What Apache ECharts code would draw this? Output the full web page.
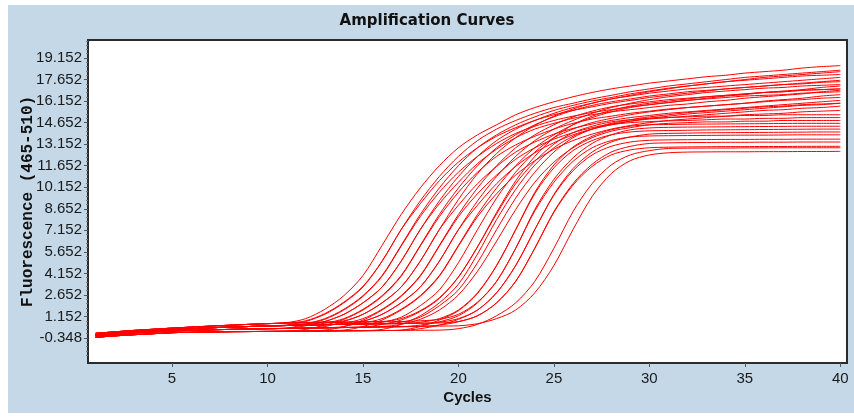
<!DOCTYPE html>
<html>
<head>
<meta charset="utf-8">
<style>
html,body{margin:0;padding:0;background:#ffffff;}
#chart{width:854px;height:418px;}
</style>
<script src="https://cdn.jsdelivr.net/npm/echarts@6/dist/echarts.min.js"></script>
</head>
<body>
<div id="chart"></div>
<script>
// ---- Data ----
const TITLE = 'Amplification Curves';
const X_NAME = 'Cycles';
const Y_NAME = 'Fluorescence (465-510)';
const CYCLES = [1,2,3,4,5,6,7,8,9,10,11,12,13,14,15,16,17,18,19,20,21,22,23,24,25,26,27,28,29,30,31,32,33,34,35,36,37,38,39,40];
const X_TICKS = [5,10,15,20,25,30,35,40];
const Y_TICKS = [-0.348,1.152,2.652,4.152,5.652,7.152,8.652,10.152,11.652,13.152,14.652,16.152,17.652,19.152];

const C01 = [-0.02,0.08,0.18,0.26,0.34,0.41,0.48,0.54,0.60,0.65,0.72,1.0,1.65,2.6,4.0,6.1,8.25,10.1,11.65,12.9,13.8,14.5,15.2,15.7,16.1,16.45,16.75,17.0,17.2,17.4,17.55,17.7,17.85,17.95,18.1,18.2,18.3,18.45,18.55,18.62];
const C02 = [-0.12,-0.02,0.08,0.16,0.24,0.30,0.36,0.41,0.45,0.49,0.56,0.8,1.3,2.1,3.2,5.0,7.2,9.2,10.9,12.3,13.4,14.2,14.8,15.3,15.7,16.0,16.3,16.55,16.8,17.0,17.2,17.35,17.5,17.65,17.8,17.9,18.0,18.1,18.2,18.3];
const C03 = [-0.02,0.08,0.18,0.26,0.34,0.41,0.48,0.54,0.60,0.65,0.70,0.85,1.35,2.15,3.25,5.0,7.2,9.0,10.6,11.9,12.9,13.7,14.3,14.8,15.2,15.5,15.75,16.0,16.2,16.4,16.55,16.7,16.85,17.0,17.1,17.2,17.3,17.4,17.5,17.6];
const C04 = [-0.12,-0.02,0.08,0.16,0.24,0.30,0.36,0.41,0.45,0.49,0.53,0.65,1.0,1.65,2.6,4.0,6.1,8.25,10.1,11.65,12.9,13.8,14.5,15.05,15.5,15.85,16.15,16.4,16.65,16.85,17.05,17.2,17.35,17.5,17.6,17.7,17.8,17.9,17.95,18.0];
const C05 = [-0.20,-0.10,0.00,0.07,0.14,0.18,0.22,0.25,0.28,0.30,0.34,0.6,0.95,1.6,2.55,3.95,6.05,8.1,9.8,11.2,12.3,13.2,13.9,14.4,14.8,15.1,15.35,15.55,15.75,15.9,16.05,16.2,16.35,16.5,16.6,16.75,16.85,16.95,17.1,17.2];
const C06 = [-0.12,-0.02,0.08,0.16,0.24,0.30,0.36,0.41,0.45,0.49,0.52,0.58,0.8,1.3,2.1,3.2,5.0,7.2,9.2,10.9,12.3,13.4,14.2,14.8,15.3,15.7,16.0,16.3,16.5,16.7,16.85,17.0,17.1,17.2,17.3,17.4,17.5,17.6,17.7,17.8];
const C07 = [-0.20,-0.10,0.00,0.07,0.14,0.18,0.22,0.25,0.28,0.30,0.32,0.5,0.8,1.3,2.1,3.2,5.0,7.2,9.0,10.5,11.8,12.8,13.6,14.2,14.6,14.95,15.2,15.4,15.55,15.7,15.85,15.95,16.1,16.2,16.35,16.45,16.55,16.65,16.8,16.9];
const C08 = [-0.12,-0.02,0.08,0.16,0.24,0.30,0.36,0.41,0.45,0.49,0.52,0.55,0.68,1.0,1.65,2.6,4.0,6.1,8.25,10.1,11.65,12.9,13.8,14.5,15.05,15.5,15.85,16.1,16.3,16.5,16.65,16.8,16.9,17.0,17.1,17.2,17.3,17.35,17.45,17.5];
const C09 = [-0.30,-0.20,-0.12,-0.05,0.02,0.05,0.07,0.09,0.10,0.11,0.12,0.25,0.55,0.95,1.6,2.55,3.95,6.05,8.1,9.8,11.2,12.3,13.1,13.7,14.2,14.6,14.9,15.1,15.3,15.45,15.6,15.7,15.8,15.9,16.0,16.15,16.25,16.35,16.5,16.6];
const C10 = [-0.02,0.08,0.18,0.26,0.34,0.41,0.48,0.54,0.60,0.65,0.70,0.73,0.76,0.85,1.3,2.1,3.2,5.0,7.2,9.3,11.1,12.5,13.6,14.45,15.1,15.6,16.0,16.3,16.55,16.8,17.0,17.2,17.35,17.5,17.65,17.8,17.9,18.0,18.1,18.2];
const C11 = [-0.20,-0.10,0.00,0.07,0.14,0.18,0.22,0.25,0.28,0.30,0.32,0.34,0.45,0.8,1.3,2.1,3.2,5.0,7.2,8.9,10.4,11.6,12.6,13.3,13.85,14.25,14.55,14.8,15.0,15.15,15.3,15.4,15.5,15.6,15.7,15.8,15.9,16.0,16.1,16.2];
const C12 = [-0.12,-0.02,0.08,0.16,0.24,0.30,0.36,0.41,0.45,0.49,0.52,0.55,0.58,0.68,1.0,1.65,2.6,4.0,6.1,8.25,10.1,11.65,12.9,13.8,14.5,15.05,15.45,15.75,15.95,16.1,16.25,16.35,16.45,16.55,16.65,16.75,16.8,16.9,16.95,17.0];
const C13 = [-0.30,-0.20,-0.12,-0.05,0.02,0.05,0.07,0.09,0.10,0.11,0.12,0.13,0.2,0.45,0.9,1.6,2.55,3.95,6.05,8.1,9.7,11.0,12.1,12.9,13.5,13.95,14.3,14.55,14.75,14.9,15.0,15.1,15.2,15.3,15.4,15.5,15.55,15.65,15.7,15.8];
const C14 = [-0.12,-0.02,0.08,0.16,0.24,0.30,0.36,0.41,0.45,0.49,0.52,0.55,0.58,0.62,0.82,1.3,2.1,3.2,5.0,7.2,9.2,10.9,12.3,13.4,14.2,14.8,15.3,15.7,16.0,16.25,16.45,16.6,16.75,16.85,16.95,17.05,17.1,17.2,17.25,17.3];
const C15 = [-0.20,-0.10,0.00,0.07,0.14,0.18,0.22,0.25,0.28,0.30,0.32,0.34,0.36,0.45,0.8,1.3,2.1,3.2,5.0,7.2,8.9,10.4,11.6,12.55,13.25,13.8,14.2,14.5,14.75,14.95,15.1,15.25,15.35,15.45,15.55,15.65,15.75,15.85,15.9,16.0];
const C16 = [-0.30,-0.20,-0.12,-0.05,0.02,0.05,0.07,0.09,0.10,0.11,0.12,0.13,0.14,0.2,0.45,0.9,1.6,2.55,3.95,6.05,8.1,9.7,11.0,12.0,12.8,13.4,13.85,14.2,14.45,14.65,14.8,14.9,15.0,15.1,15.2,15.25,15.3,15.4,15.45,15.5];
const C17 = [-0.12,-0.02,0.08,0.16,0.24,0.30,0.36,0.41,0.45,0.49,0.52,0.55,0.58,0.61,0.7,1.0,1.65,2.6,4.0,6.1,8.25,10.1,11.65,12.9,13.8,14.5,15.0,15.4,15.7,15.9,16.05,16.2,16.3,16.4,16.5,16.55,16.6,16.7,16.75,16.8];
const C18 = [-0.12,-0.02,0.08,0.16,0.24,0.30,0.36,0.41,0.45,0.49,0.52,0.55,0.58,0.6,0.62,0.75,1.1,1.9,3.0,4.9,7.2,9.4,11.2,12.6,13.6,14.2,14.65,14.95,15.2,15.4,15.55,15.7,15.8,15.9,16.0,16.1,16.2,16.25,16.35,16.4];
const C19 = [-0.20,-0.10,0.00,0.07,0.14,0.18,0.22,0.25,0.28,0.30,0.32,0.34,0.36,0.38,0.4,0.6,0.9,1.5,2.4,3.9,6.0,8.3,10.4,11.95,13.15,13.95,14.4,14.7,14.85,14.95,15.0,15.05,15.1,15.1,15.15,15.15,15.2,15.2,15.2,15.2];
const C20 = [-0.02,0.08,0.18,0.26,0.34,0.41,0.48,0.54,0.60,0.65,0.7,0.73,0.75,0.77,0.79,0.8,1.0,1.55,2.45,3.9,6.0,8.4,10.6,12.3,13.6,14.5,15.1,15.5,15.8,16.0,16.15,16.3,16.45,16.55,16.65,16.75,16.8,16.9,16.95,17.0];
const C21 = [-0.30,-0.20,-0.12,-0.05,0.02,0.05,0.07,0.09,0.10,0.11,0.12,0.13,0.14,0.15,0.16,0.25,0.6,1.2,2.1,3.4,5.5,7.9,10.0,11.7,12.9,13.7,14.2,14.5,14.65,14.72,14.77,14.8,14.85,14.9,14.9,14.95,14.95,15.0,15.0,15.0];
const C22 = [-0.12,-0.02,0.08,0.16,0.24,0.30,0.36,0.41,0.45,0.49,0.52,0.55,0.58,0.6,0.62,0.64,0.75,1.1,1.9,3.0,4.9,7.2,9.4,11.2,12.6,13.6,14.2,14.6,14.85,15.05,15.2,15.35,15.45,15.55,15.65,15.75,15.8,15.9,15.95,16.0];
const C23 = [-0.20,-0.10,0.00,0.07,0.14,0.18,0.22,0.25,0.28,0.30,0.32,0.34,0.36,0.38,0.4,0.45,0.6,0.95,1.6,2.65,4.3,6.4,8.6,10.5,11.9,12.9,13.6,14.05,14.3,14.5,14.6,14.65,14.7,14.7,14.75,14.75,14.8,14.8,14.8,14.8];
const C24 = [-0.12,-0.02,0.08,0.16,0.24,0.30,0.36,0.41,0.45,0.49,0.52,0.55,0.58,0.6,0.62,0.64,0.66,0.75,1.0,1.6,2.8,4.7,7.2,9.8,11.7,12.95,13.7,14.15,14.4,14.5,14.52,14.54,14.55,14.56,14.57,14.58,14.59,14.6,14.6,14.6];
const C25 = [-0.30,-0.20,-0.12,-0.05,0.02,0.05,0.07,0.09,0.10,0.11,0.12,0.13,0.14,0.15,0.16,0.17,0.2,0.45,0.9,1.55,2.75,4.7,7.2,9.7,11.5,12.7,13.4,13.8,14.0,14.08,14.1,14.12,14.14,14.15,14.16,14.17,14.18,14.19,14.2,14.2];
const C26 = [-0.20,-0.10,0.00,0.07,0.14,0.18,0.22,0.25,0.28,0.30,0.32,0.34,0.36,0.38,0.4,0.42,0.44,0.55,0.78,1.2,2.1,3.6,5.9,8.6,10.7,12.2,13.2,13.8,14.15,14.28,14.32,14.34,14.35,14.36,14.37,14.38,14.39,14.4,14.4,14.4];
const C27 = [-0.02,0.08,0.18,0.26,0.34,0.41,0.48,0.54,0.60,0.65,0.68,0.7,0.72,0.74,0.76,0.78,0.8,0.85,0.95,1.3,2.15,3.6,5.9,8.5,10.5,11.95,12.9,13.4,13.65,13.72,13.74,13.75,13.76,13.77,13.78,13.78,13.79,13.8,13.8,13.8];
const C28 = [-0.12,-0.02,0.08,0.16,0.24,0.30,0.36,0.41,0.45,0.49,0.52,0.55,0.58,0.6,0.62,0.64,0.66,0.68,0.75,1.0,1.6,2.8,4.7,7.2,9.65,11.45,12.6,13.3,13.65,13.85,13.9,13.92,13.94,13.95,13.96,13.97,13.98,13.99,14.0,14.0];
const C29 = [-0.30,-0.20,-0.12,-0.05,0.02,0.05,0.07,0.09,0.10,0.11,0.12,0.13,0.14,0.15,0.16,0.17,0.18,0.3,0.55,0.95,1.6,2.8,4.7,7.2,9.6,11.3,12.4,13.0,13.3,13.42,13.45,13.46,13.47,13.48,13.48,13.49,13.49,13.5,13.5,13.5];
const C30 = [-0.20,-0.10,0.00,0.07,0.14,0.18,0.22,0.25,0.28,0.30,0.32,0.34,0.36,0.38,0.4,0.42,0.44,0.46,0.55,0.78,1.2,2.1,3.6,5.9,8.45,10.4,11.75,12.6,13.0,13.2,13.24,13.26,13.27,13.28,13.28,13.29,13.29,13.3,13.3,13.3];
const C31 = [-0.12,-0.02,0.08,0.16,0.24,0.30,0.36,0.41,0.45,0.49,0.52,0.55,0.58,0.6,0.62,0.64,0.66,0.68,0.7,0.8,1.2,2.1,3.6,5.9,8.4,10.3,11.6,12.4,12.75,12.9,12.94,12.96,12.97,12.98,12.98,12.99,12.99,13.0,13.0,13.0];
const C32 = [-0.30,-0.20,-0.12,-0.05,0.02,0.05,0.07,0.09,0.10,0.11,0.12,0.13,0.14,0.15,0.16,0.17,0.18,0.19,0.2,0.3,0.6,1.2,2.1,3.6,5.9,8.45,10.4,11.7,12.4,12.7,12.85,12.87,12.88,12.88,12.89,12.89,12.9,12.9,12.9,12.9];
const C33 = [-0.20,-0.10,0.00,0.07,0.14,0.18,0.22,0.25,0.28,0.30,0.32,0.34,0.36,0.38,0.4,0.42,0.44,0.46,0.48,0.5,0.65,1.0,1.6,2.8,4.7,7.2,9.5,11.1,12.0,12.4,12.55,12.6,12.61,12.62,12.62,12.63,12.63,12.64,12.64,12.65];

const CURVES = [C01,C02,C03,C04,C05,C06,C07,C08,C09,C10,C11,C12,C13,C14,C15,C16,C17,C18,C19,C20,C21,C22,C23,C24,C25,C26,C27,C28,C29,C30,C31,C32,C33];

// ---- Chart ----
const chart = echarts.init(document.getElementById('chart'), null, {renderer: 'canvas'});

const Y_MIN = -2.09, Y_MAX = 20.405;
const X_MIN = 0.6, X_MAX = 40.35;

// minor tick positions on the y axis (5 subdivisions of each major step)
const yStep = Y_TICKS[1] - Y_TICKS[0];
const Y_MINOR = [];
for (let k = -10; k <= 80; k++) {
  if (k % 5 === 0) continue;
  const v = Y_TICKS[0] + k * yStep / 5;
  if (v > Y_MIN && v < Y_MAX) Y_MINOR.push(+v.toFixed(4));
}

const series = CURVES.map((vals, i) => ({
  name: 'S' + (i + 1),
  type: 'line',
  data: CYCLES.map((c, j) => [c, vals[j]]),
  showSymbol: false,
  symbol: 'none',
  smooth: 0.3,
  lineStyle: { color: '#ff0000', width: 1 },
  itemStyle: { color: '#ff0000' },
  emphasis: { disabled: true },
  silent: true,
  clip: true
}));

const labelFont = 'Liberation Sans, Arial, sans-serif';

chart.setOption({
  animation: false,
  backgroundColor: '#ffffff',
  graphic: [{
    type: 'rect', z: -100, silent: true,
    shape: { x: 8, y: 5, width: 846, height: 408 },
    style: { fill: '#c5d8e7' }
  }],
  title: {
    text: TITLE,
    left: 'center',
    top: 9,
    textStyle: { fontFamily: 'DejaVu Sans, sans-serif', fontWeight: 'bold', fontSize: 15, color: '#111111' }
  },
  grid: {
    left: 88, right: 7, top: 40, bottom: 55,
    show: true, backgroundColor: '#ffffff', borderColor: '#2b2b2b', borderWidth: 2
  },
  xAxis: {
    type: 'value', min: X_MIN, max: X_MAX,
    name: X_NAME, nameLocation: 'middle', nameGap: 27, nameMoveOverlap: false,
    nameTextStyle: { fontFamily: labelFont, fontWeight: 'bold', fontSize: 15, color: '#111111' },
    axisLine: { show: true, onZero: false, lineStyle: { color: '#2b2b2b', width: 2 } },
    axisTick: { show: true, length: 4, customValues: X_TICKS, lineStyle: { color: '#555555' } },
    axisLabel: { customValues: X_TICKS, fontFamily: labelFont, fontSize: 15, color: '#1a1a1a', margin: 8 },
    splitLine: { show: false }
  },
  yAxis: [{
    type: 'value', min: Y_MIN, max: Y_MAX,
    name: Y_NAME, nameLocation: 'middle', nameRotate: 90, nameGap: 52, nameMoveOverlap: false,
    nameTextStyle: { fontFamily: 'Liberation Mono, DejaVu Sans Mono, monospace', fontWeight: 'bold', fontSize: 16, color: '#111111' },
    axisLine: { show: true, onZero: false, lineStyle: { color: '#2b2b2b', width: 2 } },
    axisTick: { show: true, length: 4, customValues: Y_TICKS, lineStyle: { color: '#555555' } },
    axisLabel: {
      customValues: Y_TICKS, fontFamily: labelFont, fontSize: 15, color: '#1a1a1a', margin: 6,
      formatter: v => Number(v).toFixed(3)
    },
    splitLine: { show: false }
  }, {
    type: 'value', min: Y_MIN, max: Y_MAX, position: 'left',
    axisLine: { show: false, onZero: false },
    axisTick: { show: true, length: 2, customValues: Y_MINOR, lineStyle: { color: '#777777' } },
    axisLabel: { show: false },
    splitLine: { show: false }
  }],
  series: series
});
</script>
</body>
</html>
